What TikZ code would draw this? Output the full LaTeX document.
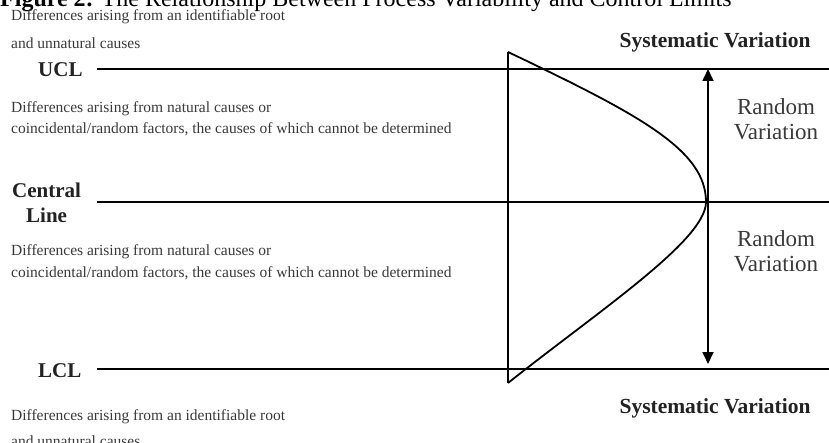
\documentclass[tikz,border=0pt]{standalone}
\usepackage{fontspec}
\setmainfont{Liberation Serif}
\usetikzlibrary{arrows.meta}
\definecolor{txtgray}{HTML}{3A3A3A}
\definecolor{lblgray}{HTML}{222222}
\tikzset{
  note/.style={anchor=base west, inner sep=0pt, font=\fontsize{15.5}{17}\selectfont, text=txtgray},
  limlabel/.style={anchor=base west, inner sep=0pt, font=\fontsize{21}{23}\selectfont\bfseries, text=lblgray},
  syslabel/.style={anchor=base, inner sep=0pt, font=\fontsize{21.5}{23}\selectfont\bfseries, text=lblgray},
  randlabel/.style={anchor=base, inner sep=0pt, font=\fontsize{23}{25}\selectfont, text=txtgray},
  limline/.style={line width=2pt, black},
  curveline/.style={line width=1.8pt, black},
}
\begin{document}
\begin{tikzpicture}[x=1pt,y=-1pt]
\useasboundingbox (0,0) rectangle (829,443);
\fill[white] (0,0) rectangle (829,443);
% title
\node[anchor=base west, inner sep=0pt, font=\fontsize{24}{26}\selectfont] (title) at (0,7) {\textbf{Figure 2:} The Relationship Between Process Variability and Control Limits};
% coordinates for lines
\coordinate (uclA) at (97,69);  \coordinate (uclB) at (829,69);
\coordinate (clA) at (97,202);  \coordinate (clB) at (829,202);
\coordinate (lclA) at (97,369); \coordinate (lclB) at (829,369);
\coordinate (vTop) at (508,52); \coordinate (vBot) at (508,383);
\coordinate (peak) at (706,202);
\coordinate (arrT) at (708,69); \coordinate (arrB) at (708,364);
% lines
\draw[limline] (uclA) -- (uclB);
\draw[limline] (clA) -- (clB);
\draw[limline] (lclA) -- (lclB);
\draw[curveline] (vTop) -- (vBot);
\draw[curveline, line join=miter] (vBot) .. controls (600,310) and (706,240) .. (peak)
   .. controls (706,150) and (640,115) .. (vTop);
\draw[line width=1.8pt, {Triangle[length=12pt,width=11pt]}-{Triangle[length=12pt,width=11pt]}] (arrT) -- (arrB);
% left labels
\node[note] (t1) at (11,21) {Differences arising from an identifiable root};
\node[note] (t2) at (11,49) {and unnatural causes};
\node[limlabel] (ucl) at (38,77) {UCL};
\node[note] (t3) at (11,113) {Differences arising from natural causes or};
\node[note] (t4) at (11,134) {coincidental/random factors, the causes of which cannot be determined};
\node[limlabel] (central) at (12,198) {Central};
\node[limlabel] (line) at (26,223) {Line};
\node[note] (t5) at (11,256) {Differences arising from natural causes or};
\node[note] (t6) at (11,278) {coincidental/random factors, the causes of which cannot be determined};
\node[limlabel] (lcl) at (38,377) {LCL};
\node[note] (t7) at (11,420) {Differences arising from an identifiable root};
\node[note] (t8) at (11,446) {and unnatural causes};
% right labels
\node[syslabel] (sysT) at (715,48) {Systematic Variation};
\node[syslabel] (sysB) at (715,413) {Systematic Variation};
\node[randlabel] (r1) at (776,115) {Random};
\node[randlabel] (r2) at (776,140) {Variation};
\node[randlabel] (r3) at (776,247) {Random};
\node[randlabel] (r4) at (776,272) {Variation};
\end{tikzpicture}
\end{document}
